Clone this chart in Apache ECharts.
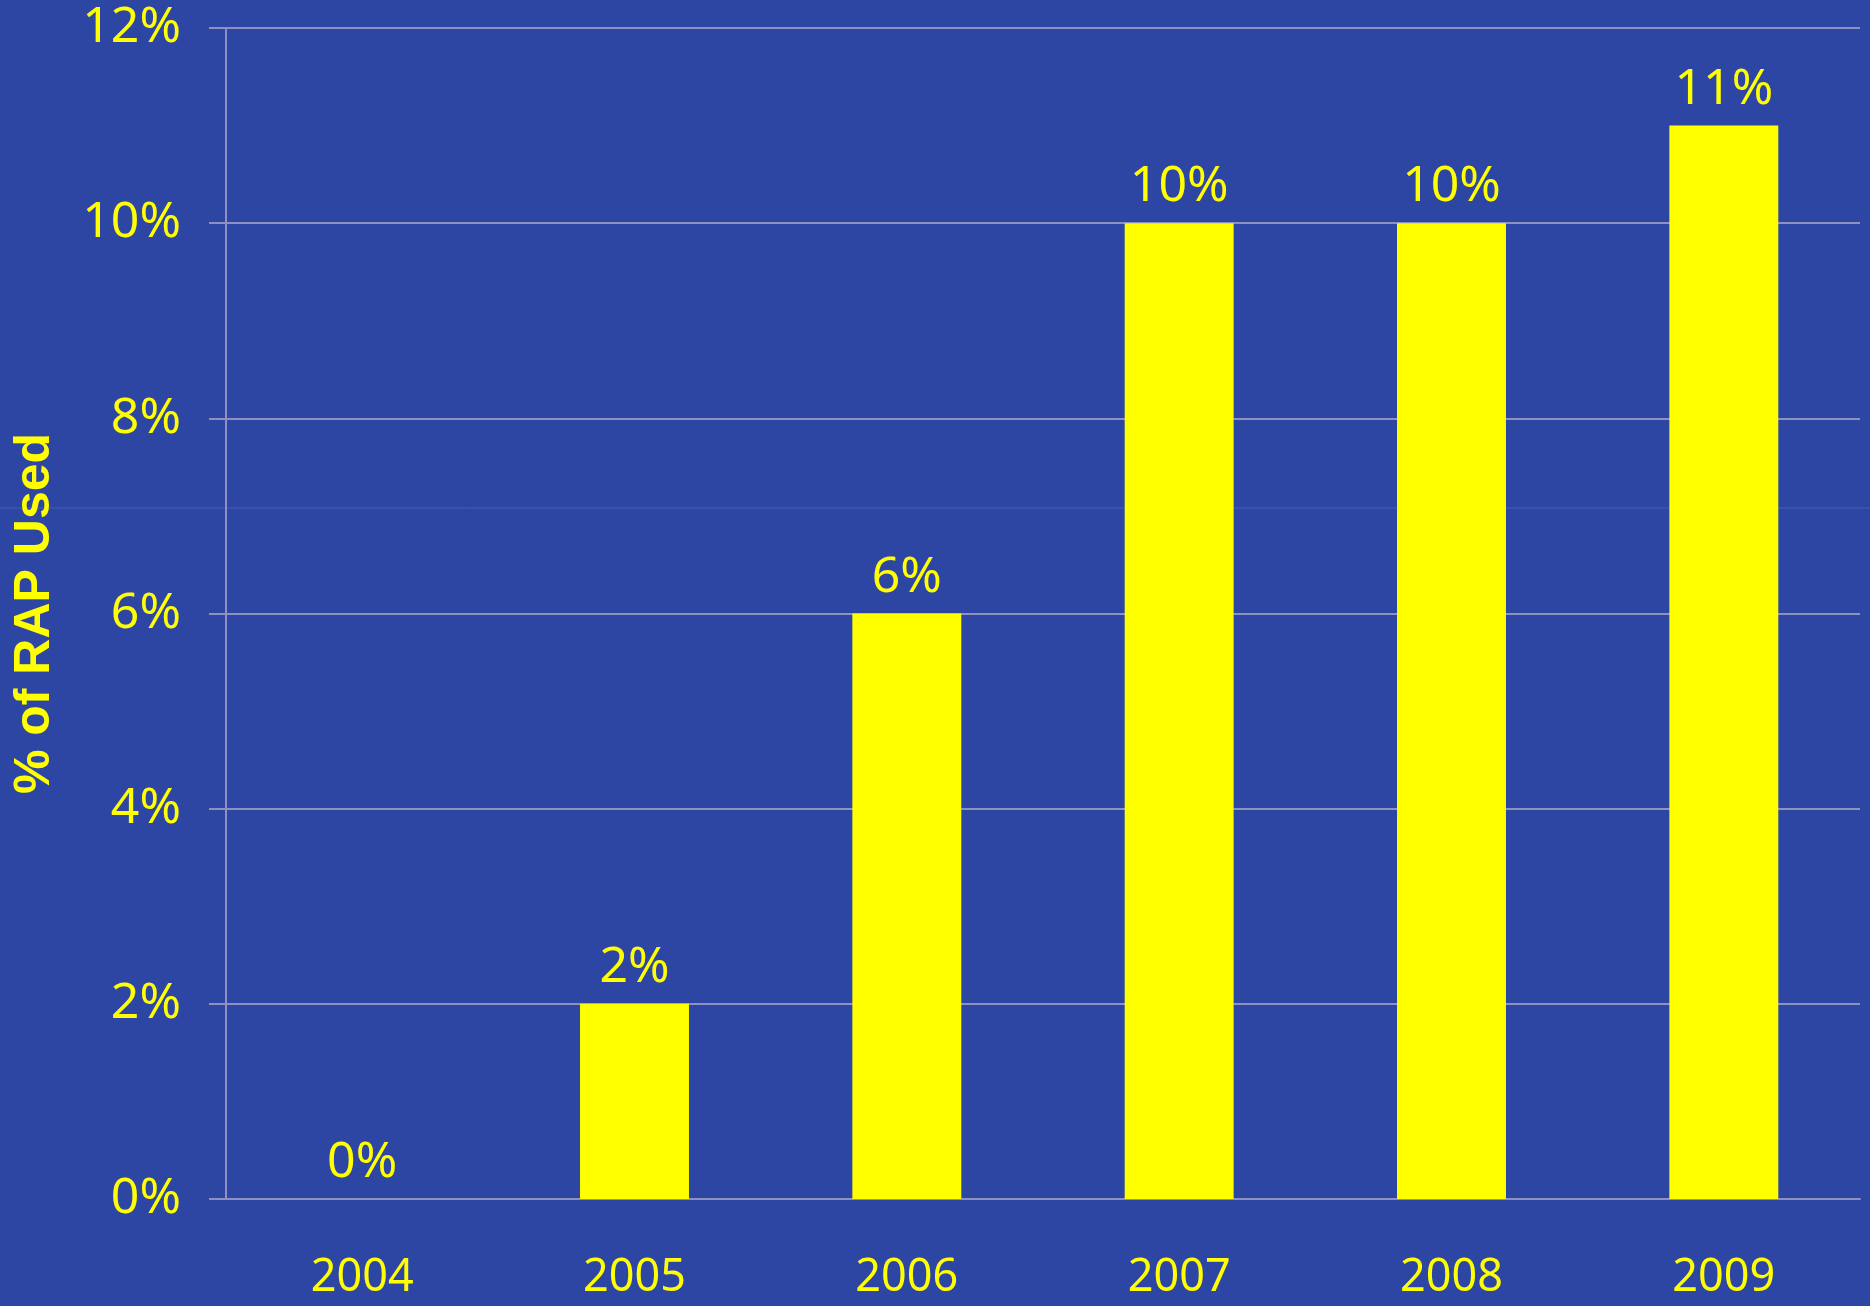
<!DOCTYPE html>
<html>
<head>
<meta charset="utf-8">
<script src="https://cdn.jsdelivr.net/npm/echarts@6/dist/echarts.min.js"></script>
<style>
  html, body { margin: 0; padding: 0; background: #2D46A4; }
  #chart { width: 1870px; height: 1306px; }
</style>
</head>
<body>
<div id="chart"></div>
<script>
// Share of RAP used per year (percent)
const years = ['2004', '2005', '2006', '2007', '2008', '2009'];
const rapUsed = [0, 2, 6, 10, 10, 11];
const yAxisTitle = '% of RAP Used';

const YELLOW = '#FFFF00';
const GRID = '#8E91BD';

const chart = echarts.init(document.getElementById('chart'), null, { renderer: 'canvas' });

chart.setOption({
  backgroundColor: '#2D46A4',
  animation: false,
  graphic: [{
    type: 'line',
    z: -10,
    silent: true,
    shape: { x1: 0, y1: 508, x2: 1870, y2: 508 },
    style: { stroke: '#4A5CAE', lineWidth: 1 }
  }],
  grid: { left: 226, right: 10, top: 28, bottom: 107, containLabel: false },
  xAxis: {
    type: 'category',
    data: years,
    axisLine: { lineStyle: { color: GRID, width: 2 } },
    axisTick: { show: false },
    axisLabel: {
      color: YELLOW,
      fontFamily: 'Noto Sans',
      fontSize: 45,
      margin: 57
    }
  },
  yAxis: {
    type: 'value',
    min: 0,
    max: 12,
    interval: 2,
    name: yAxisTitle,
    nameLocation: 'middle',
    nameGap: 166,
    nameRotate: 90,
    nameTextStyle: {
      color: YELLOW,
      fontFamily: 'Liberation Sans',
      fontWeight: 'bold',
      fontSize: 50
    },
    axisLine: { show: true, lineStyle: { color: GRID, width: 2 } },
    axisTick: { show: true, inside: false, length: 17, lineStyle: { color: GRID, width: 2 } },
    splitLine: { show: true, lineStyle: { color: GRID, width: 2 } },
    axisLabel: {
      color: YELLOW,
      fontFamily: 'Noto Sans',
      fontSize: 50,
      margin: 45,
      formatter: v => v + '%'
    }
  },
  series: [{
    type: 'bar',
    data: rapUsed,
    barWidth: '40%',
    itemStyle: { color: YELLOW },
    label: {
      show: true,
      position: 'top',
      distance: 11,
      color: YELLOW,
      fontFamily: 'Noto Sans',
      fontSize: 50,
      formatter: p => p.value + '%'
    }
  }]
});
</script>
</body>
</html>
